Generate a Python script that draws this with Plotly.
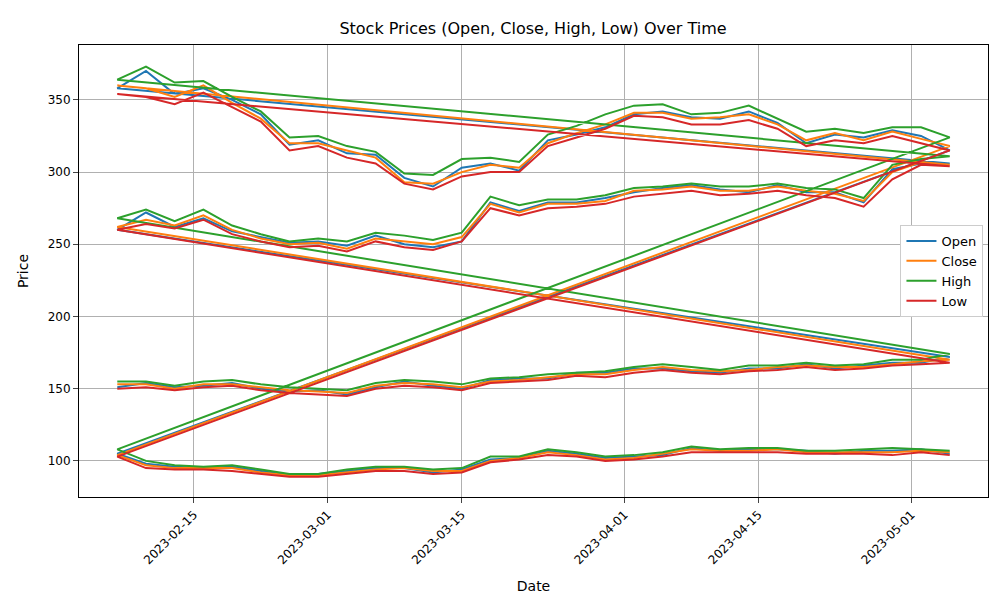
import pandas as pd
import plotly.graph_objects as go

dates = list(pd.date_range('2023-02-07', periods=30, freq='3D'))

# ticker order as it appears in the data: C, A, B, D
c_open = [151,154,151,152,154,150,148,149,146,151,155,152,150,156,157,157,161,161,164,164,162,161,164,164,167,164,166,168,168,172]
c_close = [153,153,150,153,153,151,149,148,147,152,154,153,151,155,156,158,160,160,163,165,163,162,163,165,166,165,165,167,169,170]
c_high = [155,155,152,155,156,153,151,150,149,154,156,155,153,157,158,160,161,162,165,167,165,163,166,166,168,166,167,170,170,174]
c_low = [150,151,149,151,152,149,147,146,145,150,152,151,149,154,155,156,159,158,161,163,161,160,162,163,165,163,164,166,167,168]

a_open = [260,272,262,268,259,255,251,252,249,256,250,248,252,279,273,279,279,282,286,289,291,288,286,291,286,286,279,302,306,306]
a_close = [262,267,263,270,260,254,250,251,247,254,252,250,255,278,272,278,278,280,287,288,290,287,287,290,287,285,280,300,307,305]
a_high = [268,274,266,274,263,257,252,254,252,258,256,253,258,283,277,281,281,284,289,290,292,290,290,292,289,288,282,305,309,311]
a_low = [260,264,261,267,257,252,248,249,245,252,248,246,252,275,270,275,276,278,283,285,287,284,285,287,284,282,276,295,305,304]

b_open = [358,370,354,358,350,340,319,322,313,312,296,290,303,306,301,322,326,331,340,342,338,337,342,334,320,326,324,329,325,315]
b_close = [360,358,352,360,348,337,320,320,315,310,293,292,300,305,303,320,327,333,341,341,337,338,340,333,322,327,322,328,323,318]
b_high = [364,373,362,363,352,342,324,325,318,314,299,298,309,310,307,326,332,340,346,347,340,341,346,337,328,330,327,331,331,324]
b_low = [354,352,347,355,345,335,315,318,310,306,292,288,297,300,300,318,324,330,339,338,333,333,336,330,318,322,320,325,320,315]

d_open = [105,98,96,95,96,93,90,91,93,95,95,92,94,101,102,107,105,102,103,104,109,107,108,108,107,105,107,107,108,105]
d_close = [104,97,95,95,95,92,90,90,92,94,95,93,93,100,102,106,104,101,102,105,108,107,107,108,106,106,106,106,107,106]
d_high = [108,100,97,96,97,94,91,91,94,96,96,94,95,103,103,108,106,103,104,106,110,108,109,109,107,107,108,109,108,107]
d_low = [103,95,94,94,93,91,89,89,91,93,93,91,92,99,101,104,103,100,101,103,106,106,106,106,105,105,105,104,106,104]

x_all = dates * 4
series = {
    'Open': c_open + a_open + b_open + d_open,
    'Close': c_close + a_close + b_close + d_close,
    'High': c_high + a_high + b_high + d_high,
    'Low': c_low + a_low + b_low + d_low,
}
colors = ['#1f77b4', '#ff7f0e', '#2ca02c', '#d62728']

fig = go.Figure()
for (name, vals), col in zip(series.items(), colors):
    fig.add_trace(go.Scatter(x=x_all, y=vals, mode='lines', name=name,
                             line=dict(color=col, width=2)))

axis_style = dict(showline=True, linecolor='black', mirror=True, ticks='outside',
                  showgrid=True, gridcolor='#b0b0b0', zeroline=False,
                  tickfont=dict(size=12, color='black'))
fig.update_layout(
    width=1000, height=600, plot_bgcolor='white', paper_bgcolor='white',
    font=dict(family='DejaVu Sans', color='black'),
    title=dict(text='Stock Prices (Open, Close, High, Low) Over Time', x=0.525, y=0.975,
               font=dict(size=16)),
    margin=dict(l=71, r=20, t=37, b=111),
    legend=dict(x=0.995, y=0.5, xanchor='right', yanchor='middle',
                bordercolor='#cccccc', borderwidth=1, font=dict(size=13)),
)
fig.update_xaxes(axis_style, title_text='Date', tickangle=-45,
                 range=['2023-02-03', '2023-05-09'],
                 tickvals=['2023-02-15', '2023-03-01', '2023-03-15', '2023-04-01', '2023-04-15', '2023-05-01'],
                 ticktext=['2023-02-15', '2023-03-01', '2023-03-15', '2023-04-01', '2023-04-15', '2023-05-01'])
fig.update_yaxes(axis_style, title_text='Price', range=[75, 388], dtick=50)

fig.write_html('out.html')
